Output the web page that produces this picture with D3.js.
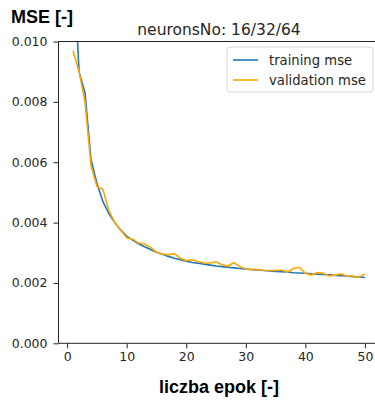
<!DOCTYPE html>
<html>
<meta charset="utf-8">
<script src="https://cdn.jsdelivr.net/npm/d3@7/dist/d3.min.js" charset="utf-8"></script>
<title>neuronsNo: 16/32/64</title>
<style>
body { margin: 0; background: #fff; }
</style>
<body>
<script type="text/javascript">

// epochs 1..50
var epochs = d3.range(1, 51);

var trainingMse = [
    0.0130, 0.0090, 0.0083, 0.0061, 0.0053, 0.0047, 0.0043, 0.0040, 0.00375, 0.00355,
    0.00342, 0.00330, 0.00320, 0.00311, 0.00302, 0.00295, 0.00288, 0.00282, 0.00277, 0.00272,
    0.00268, 0.00265, 0.00262, 0.00259, 0.00256, 0.00254, 0.00252, 0.00250, 0.00248, 0.00246,
    0.00244, 0.00243, 0.00241, 0.00240, 0.00238, 0.00237, 0.00236, 0.00234, 0.00233, 0.00232,
    0.00230, 0.00229, 0.00228, 0.00227, 0.00225, 0.00224, 0.00223, 0.00221, 0.00220, 0.00218
];

var validationMse = [
    0.0097, 0.0090, 0.0080, 0.0059, 0.0052, 0.0051, 0.0044, 0.0040, 0.00375, 0.00350,
    0.00345, 0.00332, 0.00329, 0.00318, 0.00302, 0.00296, 0.00293, 0.00297, 0.00282, 0.00274,
    0.00277, 0.00271, 0.00266, 0.00266, 0.00270, 0.00260, 0.00256, 0.00267, 0.00254, 0.00246,
    0.00245, 0.00244, 0.00242, 0.00241, 0.00241, 0.00243, 0.00236, 0.00248, 0.00252, 0.00232,
    0.00226, 0.00234, 0.00232, 0.00223, 0.00226, 0.00230, 0.00223, 0.00223, 0.00219, 0.00230
];

var xTicks = [0, 10, 20, 30, 40, 50];
var yTicks = [0.000, 0.002, 0.004, 0.006, 0.008, 0.010];

var seriesNames = ["training mse", "validation mse"];
var seriesColors = ["#1f77b4", "orange"];

var size = {
    width : 375,
    height : 401
};
var plot = {
    left : 58.5,
    right : 379.5,
    top : 41.5,
    bottom : 343.3
};

var xScale = d3.scaleLinear()
    .domain([-1.45, 52.45])
    .range([plot.left, plot.right]);
var yScale = d3.scaleLinear()
    .domain([0, 0.010])
    .range([plot.bottom, plot.top]);

var svg = d3.select("body")
    .append("svg")
    .attr("width", size.width)
    .attr("height", size.height)
    .style("font-family", "'DejaVu Sans', sans-serif");

svg.append("clipPath")
    .attr("id", "clip")
    .append("rect")
    .attr("x", plot.left)
    .attr("y", plot.top)
    .attr("width", plot.right - plot.left)
    .attr("height", plot.bottom - plot.top);

var series = seriesNames.map(function(name, i){
    var vals = i == 0 ? trainingMse : validationMse;
    return {
        id : name,
        color : seriesColors[i],
        values : epochs.map(function(e, j){ return {epoch: e, value: vals[j]}; })
    };
});

var line = d3.line()
    .x(function(d) { return xScale(d.epoch); })
    .y(function(d) { return yScale(d.value); });

svg.append("g")
    .attr("clip-path", "url(#clip)")
    .selectAll(".line")
    .data(series)
    .enter()
    .append("path")
    .attr("class", "line")
    .attr("d", function(d) { return line(d.values); })
    .style("stroke", function(d) { return d.color; })
    .style("stroke-width", 1.6)
    .style("fill", "none");

// axes
var xAxis = svg.append("g")
    .attr("transform", "translate(0," + plot.bottom + ")")
    .call(d3.axisBottom(xScale)
        .tickValues(xTicks)
        .tickSize(5)
        .tickPadding(4)
        .tickFormat(d3.format("d")));

var yAxis = svg.append("g")
    .attr("transform", "translate(" + plot.left + ",0)")
    .call(d3.axisLeft(yScale)
        .tickValues(yTicks)
        .tickSize(5)
        .tickPadding(6)
        .tickFormat(d3.format(".3f")));

[xAxis, yAxis].forEach(function(ax){
    ax.select(".domain").remove();
    ax.selectAll("line").style("stroke", "#222").style("stroke-width", 1);
    ax.selectAll("text")
        .style("font-family", "'DejaVu Sans', sans-serif")
        .style("font-size", "12.5px")
        .style("fill", "#262626");
});

// spines (right one falls outside the picture)
svg.append("path")
    .attr("d", "M" + plot.right + "," + plot.top + "H" + plot.left + "V" + plot.bottom + "H" + plot.right)
    .style("fill", "none")
    .style("stroke", "#222")
    .style("stroke-width", 1);

// title and labels
svg.append("text")
    .attr("x", (plot.left + plot.right) / 2)
    .attr("y", 34.5)
    .attr("text-anchor", "middle")
    .style("font-size", "15.5px")
    .style("fill", "#262626")
    .text("neuronsNo: 16/32/64");

svg.append("text")
    .attr("x", 11)
    .attr("y", 23)
    .style("font-family", "'Liberation Sans', Arial, sans-serif")
    .style("font-weight", "bold")
    .style("font-size", "18px")
    .style("fill", "#000")
    .text("MSE [-]");

svg.append("text")
    .attr("x", (plot.left + plot.right) / 2)
    .attr("y", 393)
    .attr("text-anchor", "middle")
    .style("font-family", "'Liberation Sans', Arial, sans-serif")
    .style("font-weight", "bold")
    .style("font-size", "18px")
    .style("fill", "#000")
    .text("liczba epok [-]");

// legend
var legend = svg.append("g")
    .attr("transform", "translate(227,47)");

legend.append("rect")
    .attr("width", 146)
    .attr("height", 45)
    .attr("rx", 3)
    .style("fill", "#fff")
    .style("fill-opacity", 0.8)
    .style("stroke", "#d6d6d6")
    .style("stroke-width", 1);

var item = legend.selectAll(".item")
    .data(series)
    .enter()
    .append("g")
    .attr("class", "item")
    .attr("transform", function(d, i) { return "translate(0," + (13 + i * 20) + ")"; });

item.append("line")
    .attr("x1", 6)
    .attr("x2", 31)
    .style("stroke", function(d) { return d.color; })
    .style("stroke-width", 1.6);

item.append("text")
    .attr("x", 42)
    .attr("dy", "0.35em")
    .style("font-size", "13.2px")
    .style("fill", "#262626")
    .text(function(d) { return d.id; });

</script>
</body>
</html>
